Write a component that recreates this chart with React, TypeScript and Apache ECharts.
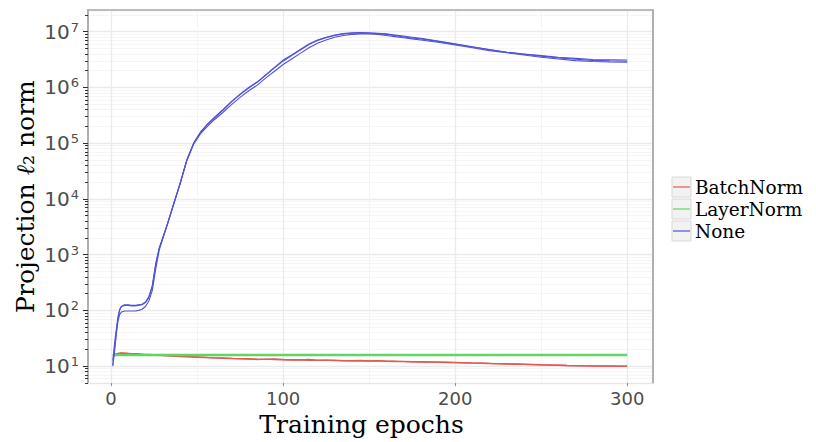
import React, { useEffect, useRef } from "react";
import * as echarts from "echarts";

// ---- data (y values are read as log10 of the projection norm) ----
const methods = ["BatchNorm", "LayerNorm", "None"];
const methodColors = ["#e25a52", "#62d462", "#5252d9"];

const noneEpochs = [1, 2, 3, 4, 5, 6, 7, 8, 10, 12, 14, 16, 18, 20, 22, 24, 26, 28, 30, 33, 36, 40, 44, 48, 52, 56, 60, 65, 70, 75, 80, 85, 90, 95, 100, 105, 110, 115, 120, 125, 130, 135, 140, 145, 150, 155, 160, 165, 170, 175, 180, 190, 200, 210, 220, 230, 240, 250, 260, 270, 280, 290, 300];
const noneRunA = [1.02, 1.3, 1.6, 1.85, 2.0, 2.07, 2.09, 2.1, 2.1, 2.09, 2.09, 2.1, 2.11, 2.15, 2.25, 2.45, 2.85, 3.12, 3.3, 3.58, 3.88, 4.27, 4.7, 5.0, 5.2, 5.34, 5.46, 5.6, 5.75, 5.88, 6.0, 6.1, 6.23, 6.36, 6.49, 6.58, 6.68, 6.78, 6.85, 6.9, 6.94, 6.965, 6.98, 6.985, 6.98, 6.97, 6.96, 6.94, 6.92, 6.9, 6.88, 6.83, 6.78, 6.73, 6.68, 6.63, 6.6, 6.57, 6.54, 6.52, 6.5, 6.495, 6.49];
const noneRunB = [1.0, 1.25, 1.55, 1.8, 1.93, 1.97, 1.98, 1.99, 1.99, 1.99, 1.99, 2.0, 2.02, 2.07, 2.17, 2.36, 2.75, 3.08, 3.28, 3.56, 3.86, 4.25, 4.68, 4.98, 5.17, 5.3, 5.42, 5.55, 5.69, 5.82, 5.94, 6.04, 6.17, 6.29, 6.41, 6.51, 6.61, 6.71, 6.79, 6.85, 6.9, 6.93, 6.95, 6.96, 6.96, 6.95, 6.93, 6.91, 6.89, 6.87, 6.85, 6.81, 6.76, 6.71, 6.66, 6.62, 6.58, 6.54, 6.51, 6.48, 6.465, 6.455, 6.45];
const noneRunC = [1.1, 1.4, 1.65, 1.88, 2.02, 2.07, 2.08, 2.09, 2.09, 2.08, 2.08, 2.09, 2.1, 2.14, 2.23, 2.43, 2.83, 3.11, 3.29, 3.57, 3.87, 4.26, 4.69, 5.0, 5.19, 5.33, 5.45, 5.59, 5.74, 5.87, 5.99, 6.09, 6.22, 6.35, 6.47, 6.57, 6.67, 6.77, 6.84, 6.89, 6.93, 6.96, 6.97, 6.975, 6.97, 6.965, 6.95, 6.93, 6.905, 6.885, 6.87, 6.825, 6.775, 6.725, 6.675, 6.63, 6.595, 6.56, 6.53, 6.505, 6.485, 6.475, 6.47];

const batchEpochs = [2, 4, 6, 8, 10, 14, 18, 22, 26, 30, 35, 40, 45, 50, 55, 60, 65, 70, 75, 80, 85, 90, 95, 100, 105, 110, 115, 120, 125, 130, 135, 140, 145, 150, 155, 160, 165, 170, 175, 180, 185, 190, 195, 200, 205, 210, 215, 220, 225, 230, 235, 240, 245, 250, 255, 260, 265, 270, 275, 280, 285, 290, 295, 300];
const batchRunA = [1.2, 1.225, 1.235, 1.233, 1.23, 1.225, 1.215, 1.208, 1.2, 1.195, 1.185, 1.178, 1.17, 1.165, 1.158, 1.152, 1.148, 1.14, 1.135, 1.132, 1.125, 1.122, 1.128, 1.118, 1.115, 1.112, 1.118, 1.108, 1.105, 1.108, 1.1, 1.098, 1.102, 1.095, 1.1, 1.09, 1.088, 1.085, 1.08, 1.078, 1.075, 1.072, 1.07, 1.066, 1.062, 1.058, 1.055, 1.05, 1.046, 1.042, 1.038, 1.034, 1.03, 1.025, 1.021, 1.017, 1.013, 1.01, 1.007, 1.005, 1.003, 1.002, 1.001, 1.0];
const batchRunB = [1.21, 1.23, 1.232, 1.228, 1.226, 1.22, 1.212, 1.203, 1.196, 1.19, 1.182, 1.172, 1.168, 1.16, 1.155, 1.148, 1.142, 1.138, 1.13, 1.127, 1.12, 1.126, 1.118, 1.114, 1.11, 1.114, 1.106, 1.104, 1.108, 1.1, 1.097, 1.1, 1.094, 1.092, 1.096, 1.087, 1.084, 1.082, 1.077, 1.075, 1.072, 1.069, 1.066, 1.063, 1.059, 1.055, 1.051, 1.047, 1.043, 1.039, 1.035, 1.031, 1.027, 1.023, 1.019, 1.015, 1.011, 1.008, 1.005, 1.003, 1.001, 1.0, 0.999, 0.998];

const layerEpochs = [1, 10, 50, 100, 150, 200, 250, 300];
const layerRun = [1.2, 1.2, 1.2, 1.2, 1.2, 1.2, 1.2, 1.2];

const xMajorTicks = [0, 100, 200, 300];
const xMinorTicks = [50, 150, 250];
const yDecades = [1, 2, 3, 4, 5, 6, 7];
const yMinorMultipliers = [2, 3, 4, 5, 6, 7, 8, 9];

const X_MIN = -13.4;
const X_MAX = 315;
const Y_MIN_LOG = 0.696;
const Y_MAX_LOG = 7.388;

export default function App() {
  const ref = useRef<HTMLDivElement>(null);

  useEffect(() => {
    document.body.style.margin = "0";
    if (!ref.current) return;
    const chart = echarts.init(ref.current, undefined, { renderer: "svg" });

    const yMinor: number[] = [];
    for (let n = 0; n <= 7; n++) {
      yMinorMultipliers.forEach((k) => {
        const v = Math.log10(k) + n;
        if (v >= Y_MIN_LOG && v <= Y_MAX_LOG) yMinor.push(v);
      });
    }

    const mk = (name: string, epochs: number[], logs: number[], color: string, width: number) => ({
      type: "line",
      name,
      xAxisIndex: 0,
      yAxisIndex: 0,
      symbol: "none",
      showSymbol: false,
      data: epochs.map((e, i) => [e, Math.pow(10, logs[i])]),
      lineStyle: { color, width },
      itemStyle: { color },
      emphasis: { disabled: true },
    });

    const series = [
      mk(methods[0], batchEpochs, batchRunA, methodColors[0], 1.4),
      mk(methods[0], batchEpochs, batchRunB, methodColors[0], 1.4),
      mk(methods[1], layerEpochs, layerRun, methodColors[1], 2.6),
      mk(methods[2], noneEpochs, noneRunA, methodColors[2], 1.1),
      mk(methods[2], noneEpochs, noneRunB, methodColors[2], 1.1),
      mk(methods[2], noneEpochs, noneRunC, methodColors[2], 1.1),
    ];

    const LEG_X = 672;
    const LEG_Y = 177;
    const LEG_STEP = 22;
    const legendGraphic = methods.map((m, i) => ({
      type: "group",
      x: LEG_X,
      y: LEG_Y + i * LEG_STEP,
      children: [
        { type: "rect", shape: { x: 0, y: 0, width: 19, height: 20 }, style: { fill: "#f2f2f2", stroke: "#d9d9d9", lineWidth: 1 } },
        { type: "line", shape: { x1: 1, y1: 10, x2: 18, y2: 10 }, style: { stroke: methodColors[i], lineWidth: 1.2 } },
        {
          type: "text",
          x: 23,
          y: 10,
          style: {
            text: m,
            fontFamily: "DejaVu Serif",
            fontSize: 18.5,
            fill: "#000",
            verticalAlign: "middle",
            align: "left",
          },
        },
      ],
    }));

    const option: any = {
      animation: false,
      grid: { left: 88, top: 10, right: 163, bottom: 58 },
      xAxis: [
        {
          type: "value",
          min: X_MIN,
          max: X_MAX,
          position: "bottom",
          axisLine: { show: true, onZero: false, lineStyle: { color: "#e6e6e6", width: 1 } },
          axisTick: { show: true, customValues: xMajorTicks, length: 3, lineStyle: { color: "#8c8c8c" } },
          axisLabel: { customValues: xMajorTicks, color: "#4d4d4d", fontSize: 18, fontFamily: "DejaVu Sans", margin: 6 },
          splitLine: { show: true, lineStyle: { color: "#ebebeb", width: 1.3 } },
          name: "Training epochs",
          nameLocation: "middle",
          nameGap: 25,
          nameTextStyle: { fontFamily: "DejaVu Serif", fontSize: 25, color: "#000", padding: [0, 18, 0, 0] },
        },
        {
          type: "value",
          min: X_MIN,
          max: X_MAX,
          position: "top",
          axisLine: { show: true, onZero: false, lineStyle: { color: "#a9a9a9", width: 1.5 } },
          axisTick: { show: false, customValues: xMinorTicks },
          axisLabel: { show: false },
          splitLine: { show: true, lineStyle: { color: "#f4f4f4", width: 1 } },
        },
      ],
      yAxis: [
        {
          type: "log",
          logBase: 10,
          min: Math.pow(10, Y_MIN_LOG),
          max: Math.pow(10, Y_MAX_LOG),
          position: "left",
          axisLine: { show: true, onZero: false, lineStyle: { color: "#b0b0b0", width: 2 } },
          axisTick: { show: false },
          axisLabel: {
            showMinLabel: false,
            showMaxLabel: false,
            color: "#4d4d4d",
            fontSize: 20,
            fontFamily: "DejaVu Sans",
            margin: 9,
            formatter: (v: number) => {
              const l = Math.log10(v);
              const n = Math.round(l);
              if (Math.abs(l - n) > 1e-6) return "";
              return "10{s|" + n + "}";
            },
            rich: {
              s: { fontSize: 13, fontFamily: "DejaVu Sans", color: "#4d4d4d", verticalAlign: "top", padding: [0, 0, 9, 1] },
            },
          },
          splitLine: { show: true, lineStyle: { color: "#ebebeb", width: 1.3 } },
          name: "Projection {l|ℓ}₂ norm",
          nameLocation: "middle",
          nameGap: 50,
          nameMoveOverlap: false,
          nameTextStyle: {
            fontFamily: "DejaVu Serif",
            fontSize: 25,
            color: "#000",
            rich: { l: { fontFamily: "DejaVu Serif", fontStyle: "italic", fontSize: 25, color: "#000" } },
          },
        },
        {
          type: "value",
          min: Y_MIN_LOG,
          max: Y_MAX_LOG,
          position: "left",
          axisLine: { show: false, onZero: false },
          axisTick: { show: true, customValues: yMinor, length: 3, lineStyle: { color: "#333" } },
          axisLabel: { show: false },
          splitLine: { show: true, lineStyle: { color: "#f5f5f5", width: 1 } },
        },
        {
          type: "value",
          min: Y_MIN_LOG,
          max: Y_MAX_LOG,
          position: "left",
          axisLine: { show: false, onZero: false },
          axisTick: { show: true, customValues: yDecades, length: 5, lineStyle: { color: "#333" } },
          axisLabel: { show: false },
          splitLine: { show: false },
        },
        {
          type: "value",
          min: Y_MIN_LOG,
          max: Y_MAX_LOG,
          position: "right",
          axisLine: { show: true, onZero: false, lineStyle: { color: "#b0b0b0", width: 2 } },
          axisTick: { show: false },
          axisLabel: { show: false },
          splitLine: { show: false },
        },
      ],
      series,
      graphic: legendGraphic,
    };

    chart.setOption(option);
    return () => chart.dispose();
  }, []);

  return <div ref={ref} style={{ width: 816, height: 442 }} />;
}
